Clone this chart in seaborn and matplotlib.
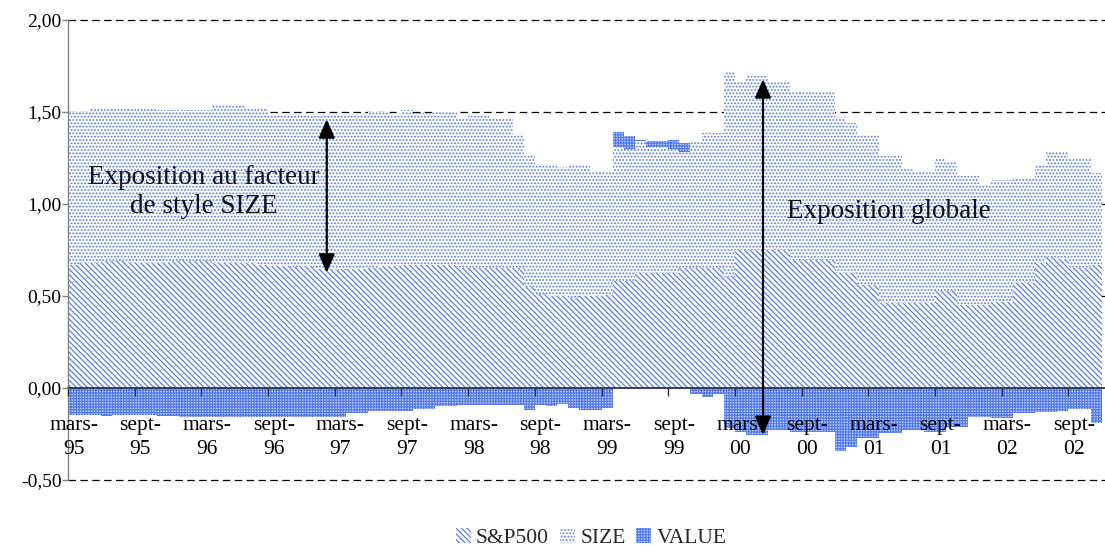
import numpy as np
import pandas as pd
import matplotlib
matplotlib.use("Agg")
import matplotlib.pyplot as plt
import seaborn as sns

# Monthly exposures, mars-95 .. nov-02 (93 months)
sp500 = [0.67, 0.68, 0.68, 0.69, 0.69, 0.68, 0.68, 0.68, 0.68, 0.69,
         0.69, 0.69, 0.69, 0.68, 0.68, 0.68, 0.68, 0.67, 0.665, 0.665,
         0.66, 0.665, 0.645, 0.645, 0.64, 0.645, 0.645, 0.65, 0.665, 0.665,
         0.67, 0.67, 0.67, 0.67, 0.67, 0.65, 0.65, 0.65, 0.65, 0.65,
         0.65, 0.55, 0.51, 0.50, 0.50, 0.49, 0.50, 0.50, 0.505, 0.58,
         0.58, 0.625, 0.625, 0.625, 0.625, 0.65, 0.65, 0.65, 0.65, 0.605,
         0.75, 0.75, 0.75, 0.75, 0.75, 0.695, 0.695, 0.695, 0.695, 0.625,
         0.625, 0.56, 0.56, 0.46, 0.46, 0.46, 0.46, 0.46, 0.525, 0.525,
         0.45, 0.45, 0.45, 0.47, 0.47, 0.57, 0.57, 0.68, 0.71, 0.70,
         0.65, 0.65, 0.67]

size = [0.83, 0.82, 0.84, 0.83, 0.83, 0.84, 0.84, 0.84, 0.83, 0.82,
        0.82, 0.82, 0.82, 0.865, 0.865, 0.865, 0.84, 0.85, 0.825, 0.825,
        0.83, 0.825, 0.845, 0.845, 0.85, 0.845, 0.845, 0.85, 0.835, 0.825,
        0.84, 0.825, 0.825, 0.835, 0.835, 0.82, 0.83, 0.83, 0.81, 0.81,
        0.73, 0.71, 0.71, 0.72, 0.70, 0.72, 0.71, 0.68, 0.675, 0.73,
        0.72, 0.715, 0.685, 0.685, 0.675, 0.63, 0.69, 0.735, 0.735, 1.11,
        0.92, 0.945, 0.945, 0.92, 0.92, 0.915, 0.915, 0.915, 0.915, 0.85,
        0.815, 0.815, 0.815, 0.80, 0.80, 0.735, 0.715, 0.715, 0.725, 0.705,
        0.70, 0.70, 0.65, 0.66, 0.66, 0.565, 0.565, 0.54, 0.58, 0.59,
        0.595, 0.595, 0.50]

value = [-0.145, -0.145, -0.145, -0.15, -0.145, -0.145, -0.145, -0.145, -0.15, -0.15,
         -0.16, -0.16, -0.16, -0.16, -0.16, -0.16, -0.16, -0.16, -0.155, -0.155,
         -0.155, -0.155, -0.155, -0.155, -0.155, -0.135, -0.135, -0.125, -0.125, -0.125,
         -0.125, -0.115, -0.115, -0.10, -0.10, -0.09, -0.09, -0.09, -0.09, -0.09,
         -0.09, -0.12, -0.095, -0.10, -0.085, -0.11, -0.12, -0.12, -0.11, 0.08,
         0.07, 0.01, 0.03, 0.03, 0.05, 0.05, -0.03, -0.05, -0.03, -0.22,
         -0.24, -0.255, -0.255, -0.23, -0.23, -0.24, -0.24, -0.24, -0.24, -0.34,
         -0.32, -0.27, -0.27, -0.245, -0.245, -0.23, -0.23, -0.24, -0.24, -0.21,
         -0.21, -0.155, -0.155, -0.165, -0.165, -0.135, -0.135, -0.13, -0.13, -0.125,
         -0.115, -0.115, -0.19]

tick_labels = ["mars-\n95", "sept-\n95", "mars-\n96", "sept-\n96", "mars-\n97",
               "sept-\n97", "mars-\n98", "sept-\n98", "mars-\n99", "sept-\n99",
               "mars-\n00", "sept-\n00", "mars-\n01", "sept-\n01", "mars-\n02",
               "sept-\n02"]

y_ticks = [-0.5, 0.0, 0.5, 1.0, 1.5, 2.0]
y_tick_labels = ["-0,50", "0,00", "0,50", "1,00", "1,50", "2,00"]

series_names = ["S&P500", "SIZE", "VALUE"]

sns.set_theme(style="white")
plt.rcParams["font.family"] = ["Liberation Serif", "DejaVu Serif"]
plt.rcParams["hatch.linewidth"] = 0.85

n = len(sp500)
df = pd.DataFrame({"month": np.arange(n), "S&P500": sp500, "SIZE": size, "VALUE": value})
pos_base = df["S&P500"].to_numpy() + df["SIZE"].to_numpy()
value_bottom = np.where(df["VALUE"].to_numpy() > 0, pos_base, 0.0)

HATCH_BLUE = "#4f78f2"

fig = plt.figure(figsize=(11.05, 5.47), dpi=100)
ax = fig.add_axes([68 / 1105, 67 / 547, 1 - 68 / 1105, 460 / 547])

common = dict(x="month", width=1.0, errorbar=None, saturation=1, linewidth=0,
              edgecolor=HATCH_BLUE, ax=ax)
sns.barplot(data=df, y="S&P500", color="white", hatch="\\\\\\\\\\\\",
            label=series_names[0], zorder=1, **common)
sns.barplot(data=df, y="SIZE", color="white", hatch=".....",
            bottom=df["S&P500"].to_numpy(), label=series_names[1], zorder=1, **common)
sns.barplot(data=df, y="VALUE", color="#c3d1fa", hatch="++++++",
            bottom=value_bottom, label=series_names[2], zorder=1, **common)
if ax.get_legend() is not None:
    ax.get_legend().remove()

# dashed gridlines behind the columns
for yv in y_ticks:
    if yv != 0:
        ax.axhline(yv, color="black", lw=0.9, ls=(0, (6, 3.5)), zorder=0.5, clip_on=False)

ax.set_ylim(-0.5, 2.0)
ax.set_xlim(-0.5, n - 0.2)
ax.set_axisbelow(False)

# category axis sits on the zero line
ax.spines["bottom"].set_position(("data", 0))
ax.spines["bottom"].set_color("#2e3044")
ax.spines["bottom"].set_linewidth(1.3)
ax.spines["left"].set_color("#808080")
ax.spines["left"].set_linewidth(1.0)
for s in ("top", "right"):
    ax.spines[s].set_visible(False)

ax.set_xticks(np.arange(-0.5, n, 6))
ax.set_xticklabels([])
ax.set_xticks(np.arange(0, n, 6), minor=True)
ax.set_xticklabels(tick_labels, minor=True, linespacing=1.3)
ax.tick_params(axis="x", which="major", direction="out", length=6, width=1,
               color="#2e3044", bottom=True)
ax.tick_params(axis="x", which="minor", length=0, pad=20.5, labelsize=15.5,
               labelcolor="black", bottom=True)

ax.set_yticks(y_ticks)
ax.set_yticklabels(y_tick_labels)
ax.tick_params(axis="y", direction="out", length=4.5, width=1, color="#808080",
               pad=0, labelsize=14, labelcolor="black", left=True)
ax.set_xlabel("")
ax.set_ylabel("")
ax.grid(False)

arrow_kw = dict(arrowstyle="<|-|>,head_length=0.8,head_width=0.35", color="black",
                lw=1.6, mutation_scale=14, shrinkA=0, shrinkB=0)
ax.annotate("", xy=(22.78, 1.46), xytext=(22.78, 0.627), arrowprops=arrow_kw, zorder=4)
ax.annotate("", xy=(62.03, 1.678), xytext=(62.03, -0.255), arrowprops=arrow_kw, zorder=4)

ax.text(11.74, 1.21, "Exposition au facteur\nde style SIZE", ha="center", va="top",
        fontsize=19.5, color="#111111", linespacing=1.2, zorder=4)
ax.text(64.22, 0.922, "Exposition globale", ha="left", va="baseline",
        fontsize=19.5, color="#111111", zorder=4)

handles, labels = ax.get_legend_handles_labels()
fig.legend(handles, labels, loc="center", bbox_to_anchor=(0.535, 0.016), ncol=3,
           frameon=False, fontsize=15.5, handlelength=0.7, handleheight=0.7,
           handletextpad=0.25, columnspacing=0.5)

fig.savefig("out.png", dpi=100)
